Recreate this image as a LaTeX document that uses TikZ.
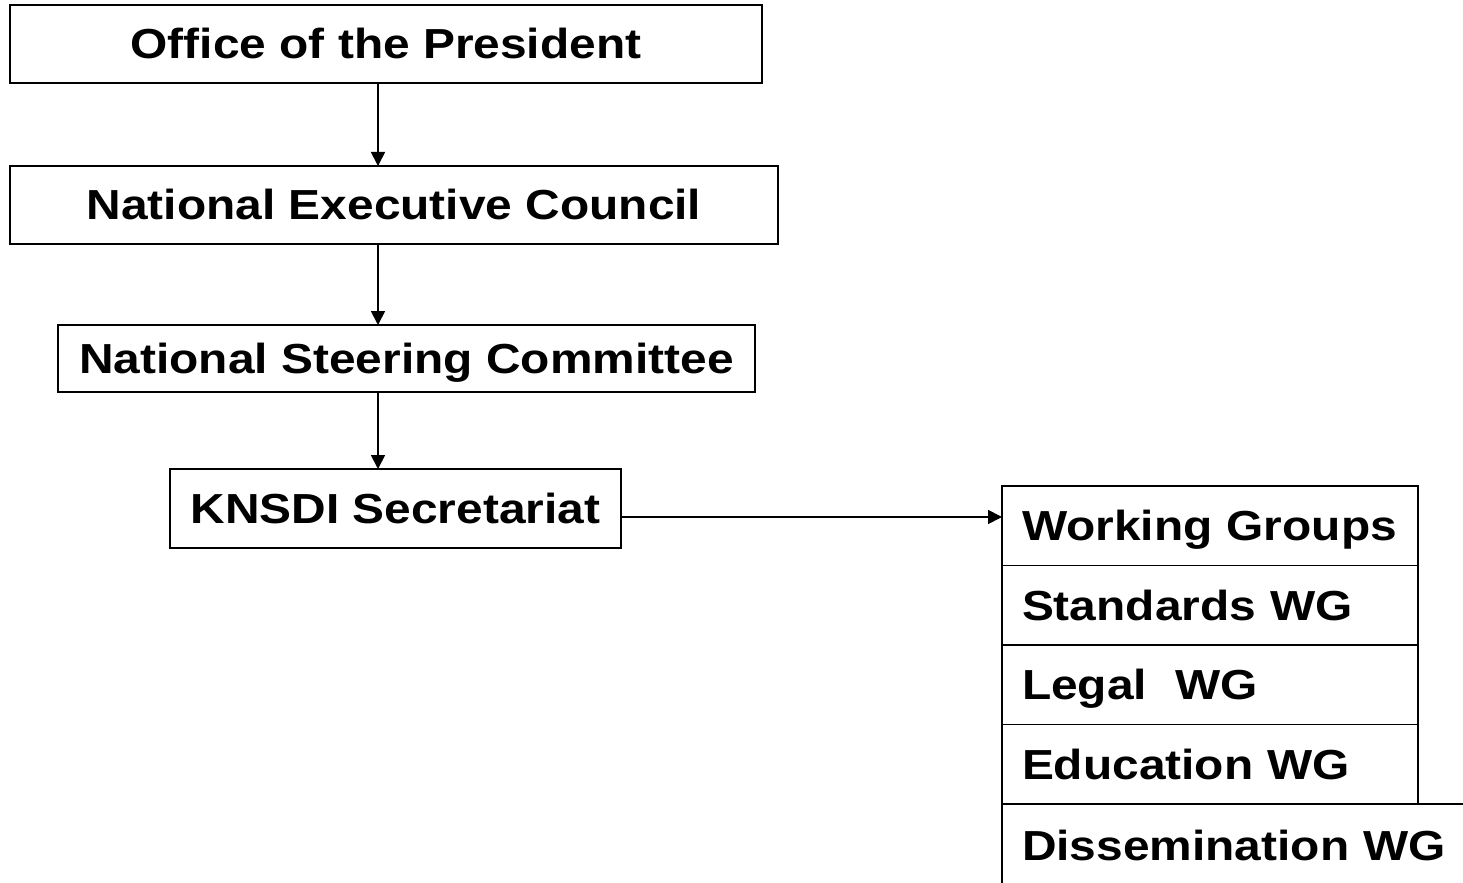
\documentclass[tikz,border=0pt]{standalone}
\usepackage{fontspec}
\setmainfont{Liberation Sans}[FakeStretch=1.14]
\usetikzlibrary{arrows.meta}
\usetikzlibrary{positioning}

\tikzset{
	orgbox/.style={draw, line width=0.9pt, outer sep=0pt, inner sep=0pt,
		text height=15pt, text depth=0pt,
		font=\fontsize{21}{25}\selectfont\bfseries},
	wgbox/.style={orgbox, minimum height=39.75pt, inner xsep=10pt,
		text width=188pt, align=left},
	link/.style={line width=0.9pt, -{Triangle[length=7pt,width=7pt]}}
}

\begin{document}
\begin{tikzpicture}[x=0.5pt,y=-0.5pt]
\useasboundingbox (0,0) rectangle (1463,883);
\clip (0,0) rectangle (1463,883);

\node[orgbox, minimum width=376pt, minimum height=39pt] (office) at (386,44) {Office of the President};
\node[orgbox, minimum width=384pt, minimum height=39pt] (council) at (394,205) {National Executive Council};
\node[orgbox, minimum width=348.5pt, minimum height=33.5pt] (steering) at (406.5,358.5) {National Steering Committee};
\node[orgbox, minimum width=225.5pt, minimum height=39.5pt] (secretariat) at (395.5,508.5) {KNSDI Secretariat};

\coordinate (axis) at (378,0);
\draw[link] (axis |- office.south) -- (axis |- council.north);
\draw[link] (axis |- council.south) -- (axis |- steering.north);
\draw[link] (axis |- steering.south) -- (axis |- secretariat.north);

% working groups
\node[wgbox, anchor=north west] (wg) at (1002,486) {Working Groups};
\node[wgbox, below=0pt of wg] (standards) {Standards WG};
\node[wgbox, below=0pt of standards] (legal) {Legal\ \ WG};
\node[wgbox, below=0pt of legal] (education) {Education WG};
\node[wgbox, anchor=north west, text width=260pt, minimum height=41pt] (dissemination) at (education.south west) {Dissemination WG};

\coordinate (level) at (0,517);
\draw[link] (level -| secretariat.east) -- (level -| wg.west);

\end{tikzpicture}
\end{document}
